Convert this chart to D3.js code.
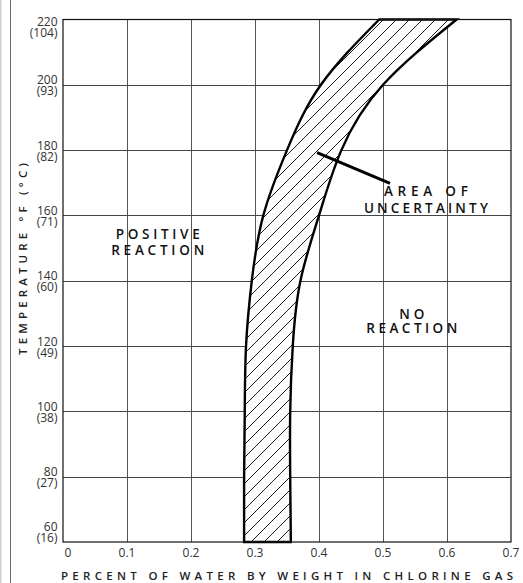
<!DOCTYPE html>
<html>
<head>
<meta charset="utf-8">
<script src="https://cdn.jsdelivr.net/npm/d3@7/dist/d3.min.js"></script>
<style>
  html, body { margin: 0; padding: 0; background: #fff; }
  svg { display: block; }
</style>
</head>
<body>
<div id="chart"></div>
<script>
// ---- data ----
const temps      = [60, 80, 100, 120, 140, 160, 180, 200, 220];
const leftBound  = [0.283, 0.283, 0.284, 0.286, 0.295, 0.313, 0.350, 0.403, 0.494];
const rightBound = [0.356, 0.355, 0.355, 0.359, 0.371, 0.400, 0.435, 0.500, 0.615];

const xTicks = [0, 0.1, 0.2, 0.3, 0.4, 0.5, 0.6, 0.7];
const xTickLabels = ["0", "0.1", "0.2", "0.3", "0.4", "0.5", "0.6", "0.7"];
const yTicks = [60, 80, 100, 120, 140, 160, 180, 200, 220];
const yTickLabelsF = ["60", "80", "100", "120", "140", "160", "180", "200", "220"];
const yTickLabelsC = ["(16)", "(27)", "(38)", "(49)", "(60)", "(71)", "(82)", "(93)", "(104)"];

const xTitle = "PERCENT OF WATER BY WEIGHT IN CHLORINE GAS";
const yTitle = "TEMPERATURE °F (°C)";

const annotations = [
  { lines: ["POSITIVE", "REACTION"], x: 0.148, t: 152.8, widths: [84, 93], gap: 16.5 },
  { lines: ["NO", "REACTION"], x: 0.545, t: 128.2, widths: [25, 91], gap: 14 },
  { lines: ["AREA OF", "UNCERTAINTY"], x: 0.567, t: 165.8, widths: [84, 124], gap: 16.5 }
];
const leader = { from: [0.397, 179.2], to: [0.511, 169.8] };

// ---- layout ----
const W = 523, H = 583;
const svg = d3.select("#chart").append("svg").attr("width", W).attr("height", H);

const x = d3.scaleLinear().domain([0, 0.7]).range([63, 511]);
const y = d3.scaleLinear().domain([60, 220]).range([542, 19.5]);

const defs = svg.append("defs");
const pat = defs.append("pattern")
  .attr("id", "hatch").attr("patternUnits", "userSpaceOnUse")
  .attr("width", 13).attr("height", 13);
pat.append("path")
  .attr("d", "M-1,1 L1,-1 M0,13 L13,0 M12,14 L14,12")
  .attr("stroke", "#000").attr("stroke-width", 0.9).attr("fill", "none");

// page frame lines at left
svg.append("rect").attr("x", 0).attr("y", 0).attr("width", 1.5).attr("height", H).attr("fill", "#cfcfcf");
svg.append("line").attr("x1", 10.5).attr("x2", 10.5).attr("y1", 0).attr("y2", H)
  .attr("stroke", "#666").attr("stroke-width", 1);

// grid
const grid = svg.append("g");
grid.selectAll(".vg").data(xTicks.slice(1, -1)).join("line")
  .attr("x1", d => Math.round(x(d)) + 0.5).attr("x2", d => Math.round(x(d)) + 0.5)
  .attr("y1", y(60)).attr("y2", y(220))
  .attr("stroke", "#555").attr("stroke-width", 1);
grid.selectAll(".hg").data(yTicks.slice(1, -1)).join("line")
  .attr("y1", d => Math.round(y(d)) + 0.5).attr("y2", d => Math.round(y(d)) + 0.5)
  .attr("x1", x(0)).attr("x2", x(0.7))
  .attr("stroke", "#444").attr("stroke-width", 1);

// band
const bandData = temps.map((t, i) => ({ t, l: leftBound[i], r: rightBound[i] }));
const area = d3.area()
  .y(d => y(d.t))
  .x0(d => x(d.l))
  .x1(d => x(d.r))
  .curve(d3.curveNatural);
svg.append("path").datum(bandData)
  .attr("d", area)
  .attr("fill", "#fff");
svg.append("path").datum(bandData)
  .attr("d", area)
  .attr("fill", "url(#hatch)")
  .attr("stroke", "#000").attr("stroke-width", 2.4).attr("stroke-linejoin", "miter");

// border
svg.append("rect")
  .attr("x", x(0)).attr("y", y(220))
  .attr("width", x(0.7) - x(0)).attr("height", y(60) - y(220))
  .attr("fill", "none").attr("stroke", "#111").attr("stroke-width", 1.2);

// x tick labels
svg.append("g").selectAll("text").data(xTicks).join("text")
  .attr("x", (d, i) => x(d) + (i === 0 ? 5 : 0))
  .attr("y", 557)
  .attr("text-anchor", "middle")
  .attr("font-family", "Open Sans, sans-serif")
  .attr("font-size", 12)
  .attr("fill", "#333")
  .text((d, i) => xTickLabels[i]);

// y tick labels
const yl = svg.append("g");
yTicks.forEach((d, i) => {
  const b = Math.max(26, Math.min(531, y(d) - 0.5));
  const g = yl.append("text")
    .attr("text-anchor", "end")
    .attr("font-family", "Open Sans, sans-serif")
    .attr("font-size", 12)
    .attr("fill", "#333");
  g.append("tspan").attr("x", 57.5).attr("y", b).text(yTickLabelsF[i]);
  g.append("tspan").attr("x", 57.5).attr("y", b + 11).text(yTickLabelsC[i]);
});

// axis titles
svg.append("text")
  .attr("x", 61).attr("y", 580)
  .attr("font-family", "Open Sans, sans-serif")
  .attr("font-size", 11.5).attr("font-weight", 600)
  .attr("fill", "#222")
  .attr("textLength", 452).attr("lengthAdjust", "spacing")
  .text(xTitle);

svg.append("text")
  .attr("transform", "translate(26.7,355) rotate(-90)")
  .attr("x", 0).attr("y", 0)
  .attr("font-family", "Open Sans, sans-serif")
  .attr("font-size", 11.5).attr("font-weight", 600)
  .attr("fill", "#222")
  .attr("textLength", 192).attr("lengthAdjust", "spacing")
  .text(yTitle);

// leader line
svg.append("line")
  .attr("x1", x(leader.from[0])).attr("y1", y(leader.from[1]))
  .attr("x2", x(leader.to[0])).attr("y2", y(leader.to[1]))
  .attr("stroke", "#000").attr("stroke-width", 3);

// annotations
annotations.forEach(a => {
  a.lines.forEach((ln, j) => {
    svg.append("text")
      .attr("x", x(a.x) - a.widths[j] / 2)
      .attr("y", y(a.t) + j * a.gap)
      .attr("font-family", "Open Sans, sans-serif")
      .attr("font-size", 13.5).attr("font-weight", 600)
      .attr("fill", "#111")
      .attr("textLength", a.widths[j]).attr("lengthAdjust", "spacing")
      .text(ln);
  });
});
</script>
</body>
</html>
